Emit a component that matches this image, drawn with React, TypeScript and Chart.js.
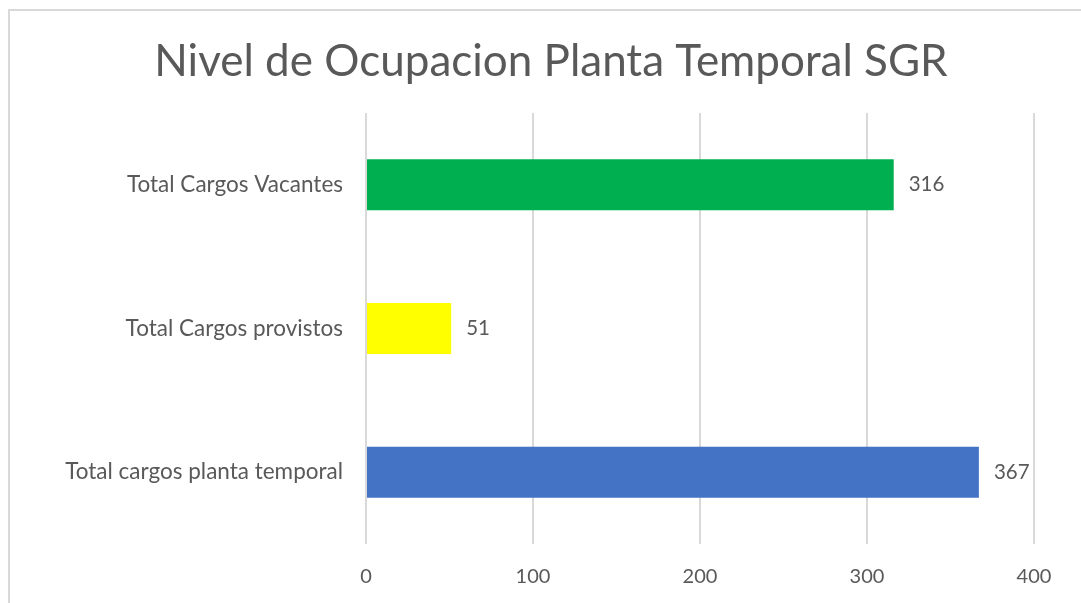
import React, { useEffect, useRef } from "react";
import { Chart, registerables } from "chart.js";

Chart.register(...registerables);

const TITLE = "Nivel de Ocupacion Planta Temporal SGR";
const categories = ["Total Cargos Vacantes", "Total Cargos provistos", "Total cargos planta temporal"];
const values = [316, 51, 367];
const barColors = ["#00B050", "#FFFF00", "#4472C4"];
const xTicks = [0, 100, 200, 300, 400];

const TEXT = "#595959";
const GRID = "#d9d9d9";
const FONT = "Lato, sans-serif";

const frame = {
  id: "frame",
  beforeDraw(chart: any) {
    const c = chart.ctx;
    c.save();
    c.fillStyle = "#ffffff";
    c.fillRect(0, 0, chart.width, chart.height);
    c.strokeStyle = GRID;
    c.lineWidth = 2;
    c.beginPath();
    c.moveTo(9, chart.height);
    c.lineTo(9, 10);
    c.lineTo(chart.width, 10);
    c.stroke();
    c.fillStyle = TEXT;
    c.font = `44px ${FONT}`;
    c.textAlign = "center";
    c.textBaseline = "middle";
    c.fillText(TITLE, 551, 62);
    c.restore();
  },
};

const valueLabels = {
  id: "valueLabels",
  afterDatasetsDraw(chart: any) {
    const c = chart.ctx;
    c.save();
    c.fillStyle = TEXT;
    c.font = `20.5px ${FONT}`;
    c.textAlign = "left";
    c.textBaseline = "middle";
    chart.data.datasets.forEach((ds: any, i: number) => {
      chart.getDatasetMeta(i).data.forEach((el: any, j: number) => {
        c.fillText(String(ds.data[j]), el.x + 15, el.y);
      });
    });
    c.restore();
  },
};

export default function App() {
  const ref = useRef<HTMLCanvasElement>(null);
  useEffect(() => {
    const chart = new Chart(ref.current as HTMLCanvasElement, {
      type: "bar",
      data: {
        labels: categories,
        datasets: [
          {
            data: values,
            backgroundColor: barColors,
            borderWidth: 0,
            barPercentage: 0.355,
            categoryPercentage: 1,
          },
        ],
      },
      options: {
        indexAxis: "y",
        responsive: false,
        animation: false,
        layout: { padding: { left: 0, right: 47, top: 113, bottom: 0 } },
        plugins: {
          legend: { display: false },
          tooltip: { enabled: false },
          title: { display: false },
        },
        scales: {
          x: {
            min: 0,
            max: 400,
            afterBuildTicks(scale: any) {
              scale.ticks = xTicks.map((v) => ({ value: v }));
            },
            afterFit(scale: any) {
              scale.height = 59;
            },
            grid: { color: GRID, lineWidth: 2, drawTicks: false },
            border: { display: false },
            ticks: {
              color: TEXT,
              font: { family: FONT, size: 20 },
              padding: 21,
            },
          },
          y: {
            afterFit(scale: any) {
              scale.width = 366;
            },
            grid: { display: false, drawTicks: false },
            border: { display: false },
            ticks: {
              color: TEXT,
              font: { family: FONT, size: 22.5 },
              padding: 23,
            },
          },
        },
      },
      plugins: [frame, valueLabels],
    } as any);
    return () => chart.destroy();
  }, []);
  return (
    <div style={{ position: "fixed", left: 0, top: 0, width: 1081, height: 603 }}>
      <canvas ref={ref} width={1081} height={603} />
    </div>
  );
}
